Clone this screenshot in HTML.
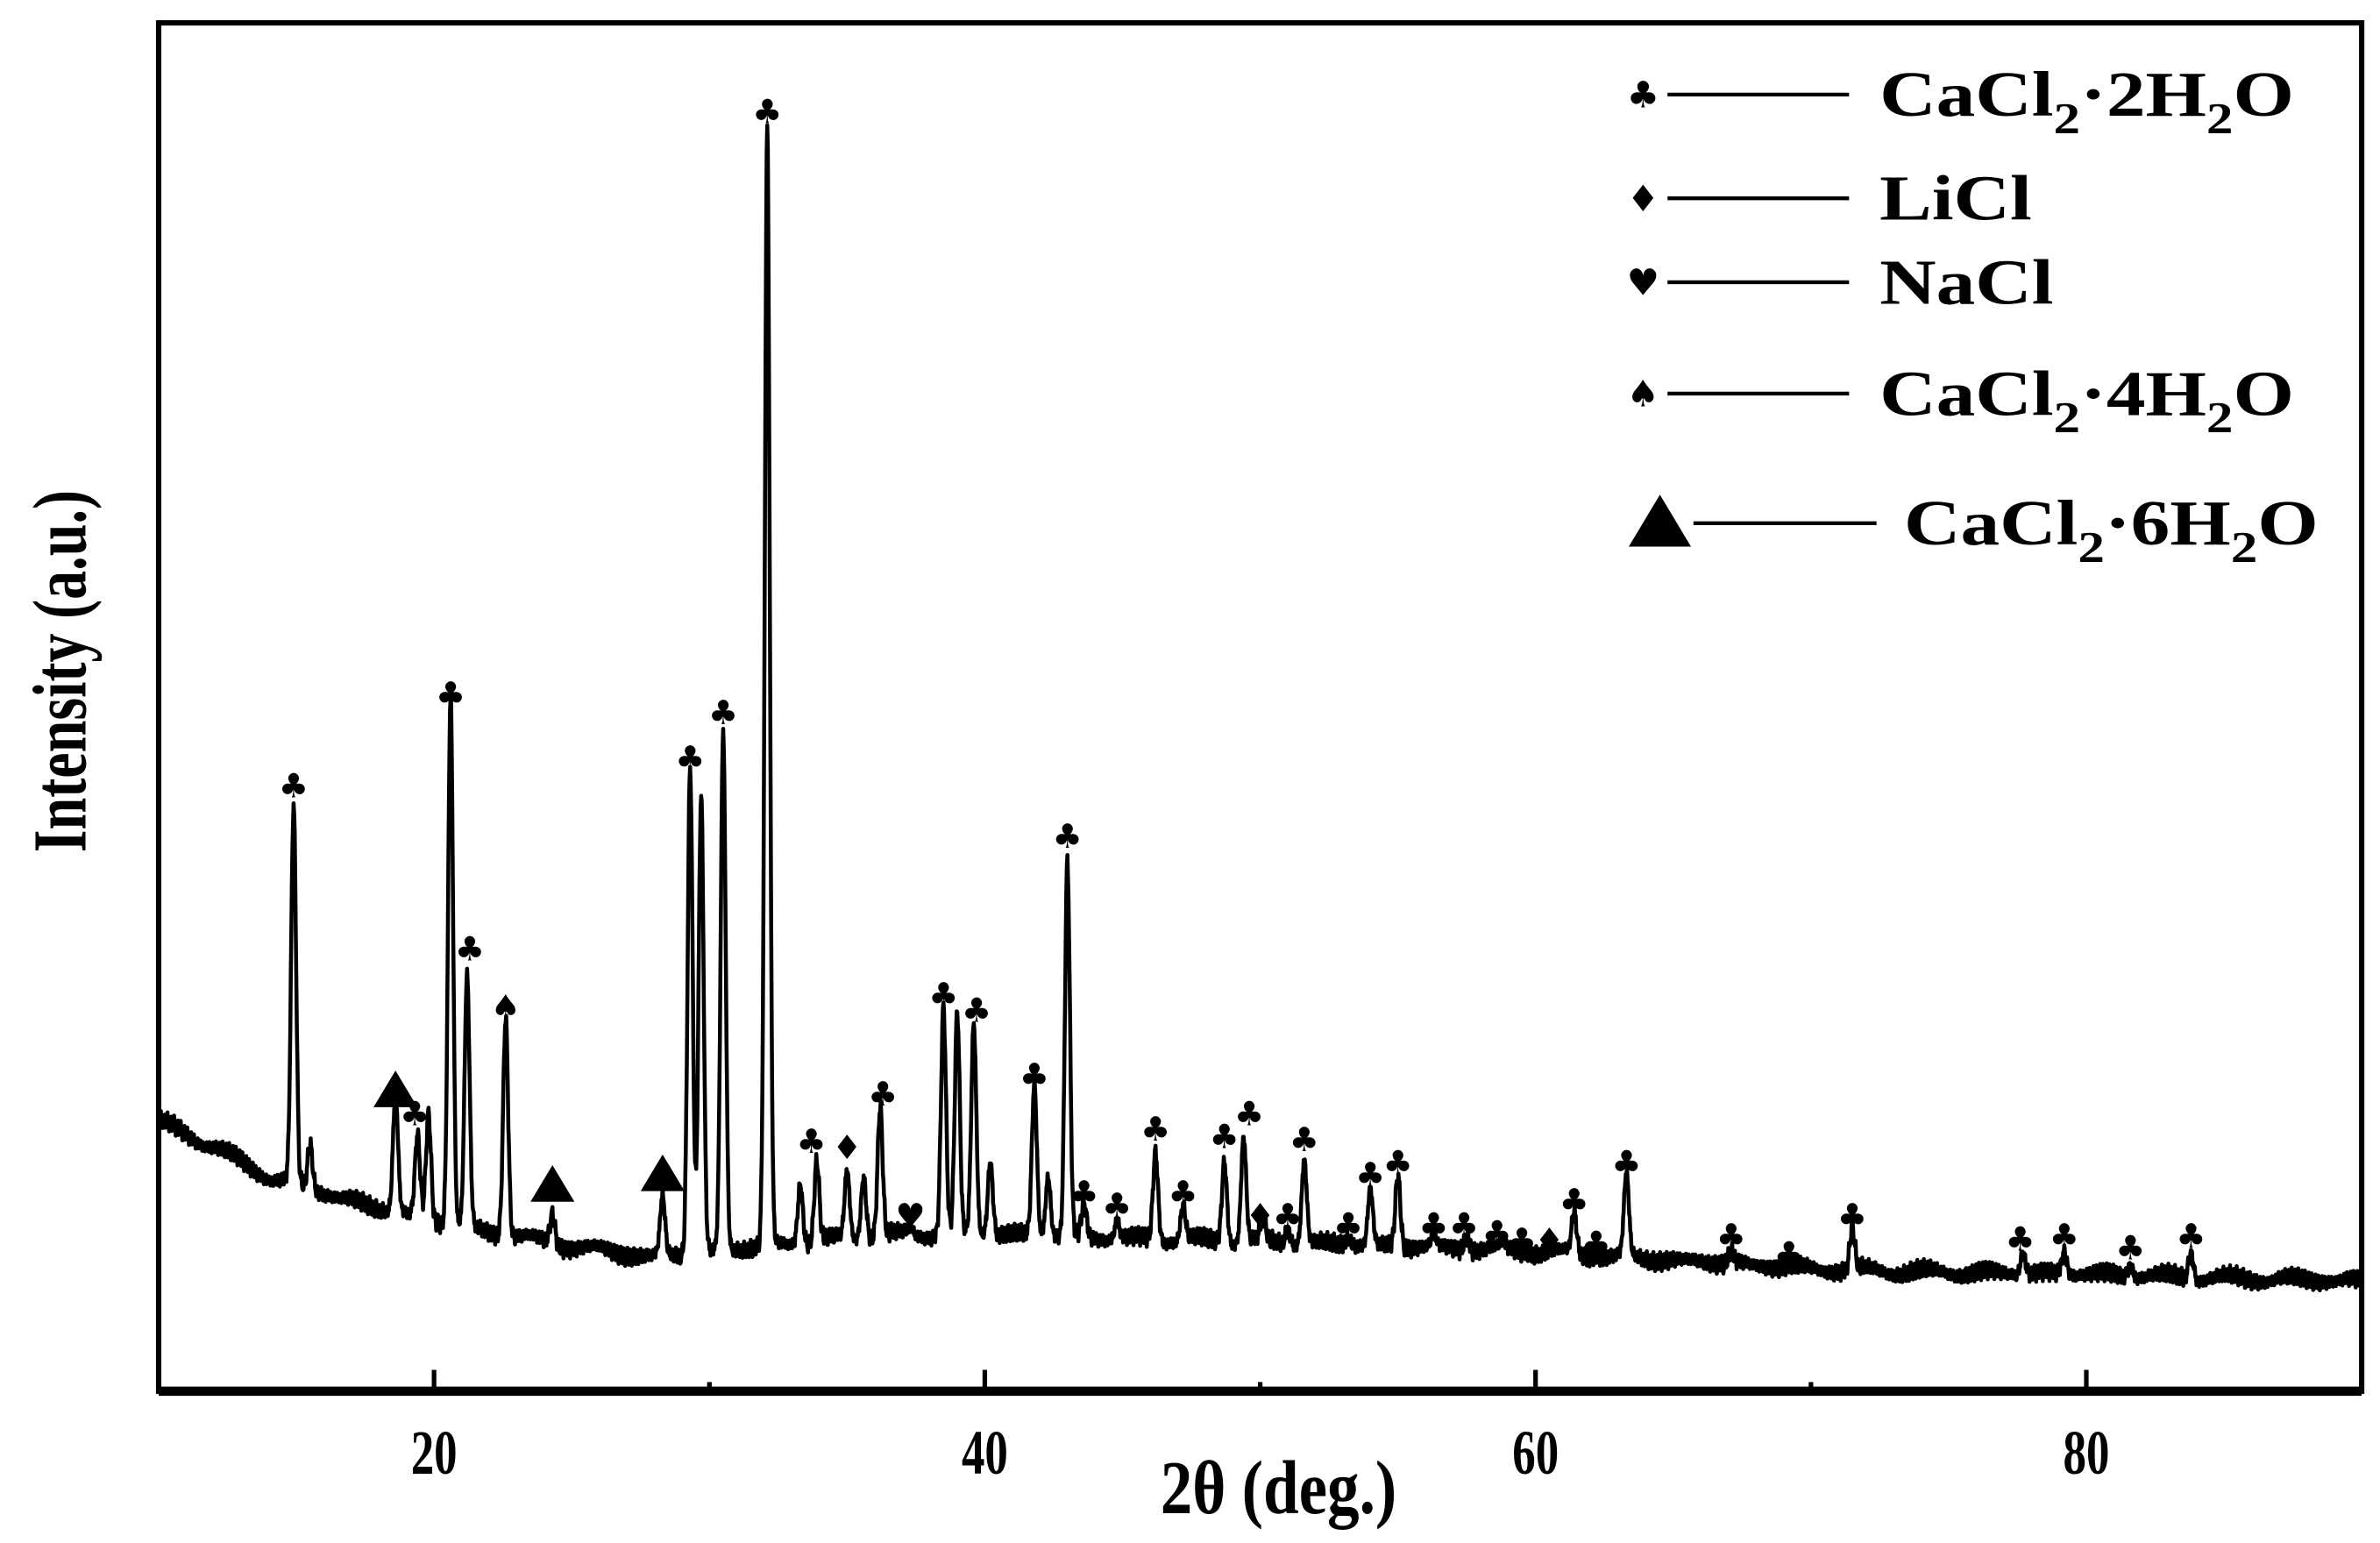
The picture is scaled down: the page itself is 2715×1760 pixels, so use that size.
<!DOCTYPE html>
<html><head><meta charset="utf-8"><style>
html,body{margin:0;padding:0;background:#fff;}
svg{display:block;}
text{font-family:"Liberation Serif",serif;font-weight:bold;fill:#000;}
</style></head><body>
<svg id="chart" width="2715" height="1760" viewBox="0 0 1560 1011.5" preserveAspectRatio="none" xmlns="http://www.w3.org/2000/svg">
<g id="plot"></g>
</svg>
<script>
// ---- data ----
const baseX = [10, 12, 14, 16, 18, 20, 22, 25, 28, 32, 36, 40, 45, 50, 55, 60, 65, 70, 75, 80, 85, 90];
const baseY = [177, 160, 140, 130, 120, 112, 105, 95, 88, 95, 102, 104, 100, 98, 95, 92, 86, 80, 78, 77, 74, 72];
const peakPos = [14.9,15.5,18.6,19.4,19.8,20.6,21.2,22.6,24.3,28.3,29.3,29.7,30.5,32.1,33.3,33.9,35.0,35.6,36.2,37.3,38.5,39.0,39.6,40.2,41.8,42.3,43.0,43.6,44.8,46.2,47.2,48.7,49.4,50.1,51.0,51.6,53.2,54.0,55.0,56.3,57.5,58.8,59.7,60.5,61.4,62.2,63.3,67.1,69.2,71.5,77.7,79.2,81.6,83.8];
const peakTop = [382,162,197,167,182,457,272,247,117,127,412,392,432,827,137,152,144,142,187,107,252,247,242,152,202,142,347,122,112,157,122,152,167,112,107,152,102,132,142,102,104,97,94,92,117,92,142,92,82,107,92,92,84,92];
const markerX = [14.9,18.6,19.3,20.6,21.3,22.6,24.3,28.3,29.3,30.5,32.1,33.7,35.0,36.3,37.3,38.5,39.7,41.8,43.0,43.6,44.8,46.2,47.2,48.7,49.6,50.0,51.0,51.6,53.2,54.0,55.0,56.3,57.4,58.6,59.5,60.5,61.4,62.2,63.3,67.1,69.2,71.5,77.6,79.2,81.6,83.8];
const markerLevel = [397,197,182,457,290,252,135,142,415,445,839,164,160,195,115,260,250,207,364,130,122,172,130,167,182,115,115,165,109,142,150,109,109,104,99,99,125,97,150,102,90,115,100,102,94,102];
const markerType = ["c","t","c","c","c","s","t","t","c","c","c","c","d","c","h","c","c","c","c","c","c","c","c","c","c","d","c","c","c","c","c","c","c","c","c","d","c","c","c","c","c","c","c","c","c","c"];
const xTicks = [20, 40, 60, 80];
const xMinor = [30, 50, 70];
const legendLabels = [["CaCl","2","·2H","2","O"],["LiCl"],["NaCl"],["CaCl","2","·4H","2","O"],["CaCl","2","·6H","2","O"]];
const legendTypes = ["c","d","h","s","t"];

// ---- scales ----
const L=104,R=1548,T=15,B=912;
const xs = v => L + (v-10)/(90-10)*(R-L);
const ys = v => B - v;
const NS="http://www.w3.org/2000/svg";
const g=document.getElementById('plot');
function mk(tag,attrs){const e=document.createElementNS(NS,tag);for(const k in attrs)e.setAttribute(k,attrs[k]);g.appendChild(e);return e;}

function baseAt(x){for(let i=0;i<baseX.length-1;i++){if(x<=baseX[i+1]){const t=(x-baseX[i])/(baseX[i+1]-baseX[i]);return baseY[i]+t*(baseY[i+1]-baseY[i]);}}return baseY[baseY.length-1];}
function profile(x){
  const b=baseAt(x);let v=b;
  for(let i=0;i<peakPos.length;i++){const d=(x-peakPos[i])/0.09;v+=(peakTop[i]-b)*Math.exp(-0.5*d*d);}
  v+=3*Math.sin(x*53.1)+2.5*Math.sin(x*131.7)+2*Math.sin(x*311.3)+1.5*Math.sin(x*577.9);
  return v;
}
let d="";
for(let x=10;x<=90.001;x+=0.02){const v=profile(x);d+=(d?"L":"M")+xs(x).toFixed(2)+","+ys(v).toFixed(2);}
const line=mk('path',{d:d,fill:'none',stroke:'#000','stroke-width':2.6,'stroke-linejoin':'round'});



function glyph(type,cx,cy,size){
  if(type==="t"){
    const s=size;
    return mk('polygon',{points:`${cx},${cy-s*0.55} ${cx-s*0.6},${cy+s*0.45} ${cx+s*0.6},${cy+s*0.45}`,fill:'#000'});
  }
  const ch={c:"♣",d:"♦",h:"♥",s:"♠"}[type];
  const t=mk('text',{x:cx,y:cy+size*0.35,'text-anchor':'middle','font-size':size,style:'font-family:"DejaVu Sans",sans-serif;font-weight:normal'});
  t.textContent=ch;return t;
}
for(let i=0;i<markerX.length;i++){
  const sz = markerType[i]==="t"?24:22;
  const m=glyph(markerType[i],xs(markerX[i]),ys(markerLevel[i]),sz);
  
  
}
const fr=mk('rect',{x:L,y:T,width:R-L,height:B-T,fill:'none',stroke:'#000','stroke-width':3.5});


const bx=mk('line',{x1:L,y1:B,x2:R,y2:B,stroke:'#000','stroke-width':6});


xTicks.forEach(v=>{
  const t=mk('line',{x1:xs(v),y1:B,x2:xs(v),y2:B-14,stroke:'#000','stroke-width':3});
  
  
  const lb=mk('text',{x:0,y:0,'text-anchor':'middle','font-size':32,transform:`translate(${xs(v)},${B+54}) scale(0.95,1.3)`});
  lb.textContent=v;
  
  
});
xMinor.forEach(v=>{
  const t=mk('line',{x1:xs(v),y1:B,x2:xs(v),y2:B-6,stroke:'#000','stroke-width':3});
  
  
});
const xt=mk('text',{x:0,y:0,'text-anchor':'middle','font-size':40,transform:`translate(838,992) scale(1.05,1.25)`});
xt.textContent="2θ (deg.)";


const yt=mk('text',{x:0,y:0,'text-anchor':'middle','font-size':40,transform:`translate(56,440) rotate(-90) scale(0.95,1.25)`});
yt.textContent="Intensity (a.u.)";


const legY=[62,130,185,258,343];
for(let i=0;i<legendTypes.length;i++){
  const isT=legendTypes[i]==="t";
  const gx=isT?1088:1077, lx1=isT?1110:1093, lx2=isT?1230:1212, tx=isT?1248:1232;
  const gm=glyph(legendTypes[i],gx,legY[i],isT?34:24);
  
  
  const ln=mk('line',{x1:lx1,y1:legY[i],x2:lx2,y2:legY[i],stroke:'#000','stroke-width':2.5});
  
  
  const t=mk('text',{x:0,y:0,'font-size':38,transform:`translate(${tx},${legY[i]+14}) scale(1.35,1.1)`});
  legendLabels[i].forEach((s,k)=>{const sp=document.createElementNS(NS,'tspan');sp.textContent=s;
    if(k===1||k===3){sp.setAttribute('font-size','26');sp.setAttribute('dy','10');}
    else if(k>1){sp.setAttribute('dy','-10');}
    t.appendChild(sp);});
  
  
}
</script>
</body></html>
